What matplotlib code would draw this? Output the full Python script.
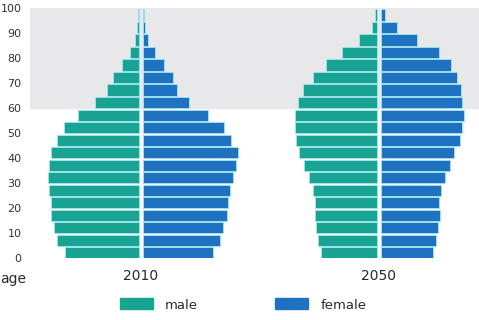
import numpy as np
import matplotlib
matplotlib.use("Agg")
import matplotlib.pyplot as plt
from matplotlib.patches import Patch

# age groups (lower bound of 5-year band)
ages = list(range(0, 100, 5))

# population by age group, arbitrary units
male_2010 = [74, 82, 85, 88, 88, 90, 91, 90, 88, 82, 75, 61, 44, 32, 26, 17, 9, 4.5, 2.5, 1.5]
female_2010 = [70, 77, 80, 84, 85, 87, 90, 93, 95, 88, 81, 65, 46, 34, 30, 21, 12, 5.5, 2.5, 1.5]
male_2050 = [56, 59, 61, 62, 62, 64, 68, 73, 78, 81, 82, 82, 79, 74, 64, 51, 35, 18, 5, 2]
female_2050 = [52, 55, 57, 59, 58, 60, 64, 69, 73, 79, 81, 83, 81, 80, 76, 70, 58, 36, 16, 4]

years = ['2010', '2050']
yticks = list(range(0, 101, 10))

c_male = '#18a392'
c_female = '#1f72c2'
c_edge = '#9ee6f2'

fig = plt.figure(figsize=(4.79, 3.2), dpi=100)
ax = fig.add_axes([30/479, 1-258/320, 449/479, 250/320])

centers = [0, 238]
gap = 1.8
h = 4.4
for c, m, f in zip(centers, [male_2010, male_2050], [female_2010, female_2050]):
    m = np.array(m)
    f = np.array(f)
    y = np.array(ages) + 2.2
    ax.barh(y, -m, left=c - gap, height=h, color=c_male, edgecolor=c_edge, linewidth=0.6)
    ax.barh(y, f, left=c + gap, height=h, color=c_female, edgecolor=c_edge, linewidth=0.6)

ax.set_xlim(-111, 338)
ax.set_ylim(0, 100)
ax.axhspan(60, 100, color='#e8e8ea', zorder=0)
for s in ax.spines.values():
    s.set_visible(False)
ax.axhline(0, color='#eeeeee', lw=0.8, zorder=0)
ax.set_xticks([])
ax.set_yticks(yticks)
ax.tick_params(axis='y', length=0, pad=6, labelsize=8, labelcolor='#333333')
ax.set_yticklabels([str(t) for t in yticks])

for c, yr in zip(centers, years):
    ax.text(c, -7, yr, ha='center', va='center', fontsize=10, color='#2a2a2a')
fig.text(0 / 479, 1 - 279 / 320, 'age', ha='left', va='center', fontsize=10, color='#2a2a2a')

handles = [Patch(color=c_male, label='male'), Patch(color=c_female, label='female')]
fig.legend(handles=handles, loc='center', bbox_to_anchor=(243/479, 1-305/320), ncol=2,
           frameon=False, fontsize=9.5, handlelength=2.5, handleheight=0.9,
           columnspacing=5.9, handletextpad=0.9, labelcolor='#2a2a2a')

fig.savefig('out.png', dpi=100)
